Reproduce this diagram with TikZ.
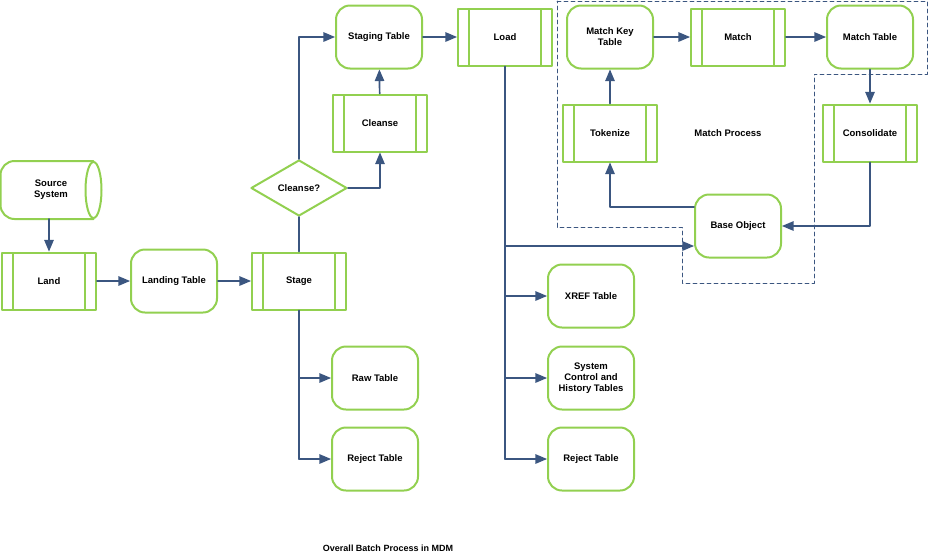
\documentclass[tikz,border=0pt]{standalone}
\usepackage{fontspec}
\setmainfont{Liberation Sans}
\usetikzlibrary{arrows,shapes.geometric}
\definecolor{boxgreen}{RGB}{146,208,80}
\definecolor{linkblue}{RGB}{59,86,128}
\tikzset{
  base/.style={draw=boxgreen,line width=2pt,fill=white,align=center,
    font=\fontsize{9.5}{11}\selectfont\bfseries,inner sep=1pt},
  table/.style={base,rounded corners=14pt,minimum width=86pt,minimum height=63pt},
  proc/.style={base,minimum width=94pt,minimum height=57pt,
    path picture={
      \draw[boxgreen,line width=2pt]
        ([xshift=11pt]path picture bounding box.north west) -- ([xshift=11pt]path picture bounding box.south west)
        ([xshift=-11pt]path picture bounding box.north east) -- ([xshift=-11pt]path picture bounding box.south east);}},
  link/.style={draw=linkblue,line width=1.7pt,->},
  region/.style={draw=linkblue,dash pattern=on 4pt off 3pt,line width=0.7pt}
}
\begin{document}
\begin{tikzpicture}[line cap=round,line join=round,>=triangle 45,x=1pt,y=-1pt]
\useasboundingbox (0,0) rectangle (928,555);
% match region
\draw[region] (557,1) -- (927,1) -- (927,74) -- (814,74) -- (814,283) -- (682,283) -- (682,227) -- (557,227) -- cycle;
% nodes
\node[base,draw=none,fill=none,minimum width=99pt,minimum height=56pt] (src) at (51,190) {Source\\System};
\draw[boxgreen,line width=2pt,rounded corners=14pt] ([xshift=-8pt]src.north east) -- (src.north west) -- (src.south west) -- ([xshift=-8pt]src.south east);
\draw[boxgreen,line width=2pt] ([xshift=-8pt]src.east) ellipse [x radius=8pt,y radius=28pt];
\node[proc] (land) at (49,281) {Land};
\node[table] (landing) at (174,281) {Landing Table};
\node[proc] (stage) at (299,281) {Stage};
\node[base,diamond,aspect=1.7,minimum width=96pt,minimum height=56pt,inner sep=0pt] (ask) at (299,188) {Cleanse?};
\node[proc] (cleanse) at (380,123) {Cleanse};
\node[table] (staging) at (379,37) {Staging Table};
\node[proc] (load) at (505,37) {Load};
\node[table] (mkey) at (610,37) {Match Key\\Table};
\node[proc] (match) at (738,37) {Match};
\node[table] (mtable) at (870,37) {Match Table};
\node[proc] (token) at (610,133) {Tokenize};
\node[proc] (consol) at (870,133) {Consolidate};
\node[table] (bobj) at (738,226) {Base Object};
\node[font=\fontsize{9.5}{11}\selectfont\bfseries] (mlabel) at (728,133) {Match Process};
\node[table] (xref) at (591,296) {XREF Table};
\node[table] (sysctl) at (591,378) {System\\Control and\\History Tables};
\node[table] (rejr) at (591,459) {Reject Table};
\node[table] (raw) at (375,378) {Raw Table};
\node[table] (rejl) at (375,459) {Reject Table};
\node[font=\fontsize{9}{10.5}\selectfont\bfseries] (caption) at (388,548) {Overall Batch Process in MDM};
% connectors
\draw[link] (src.south -| land.north) -- (land.north);
\draw[link] (land) -- (landing);
\draw[link] (landing) -- (stage);
\draw[link,-] (stage) -- (ask);
\draw[link] (ask.east) -| (cleanse.south);
\draw[link] (cleanse) -- (staging);
\draw[link] (ask.north) |- (staging.west);
\draw[link] (staging) -- (load);
\draw[link,-] (load.south) -- (505,459);
\draw[link] (505,246) -- (bobj.west |- 0,246);
\draw[link] (505,296) -- (xref.west);
\draw[link] (505,378) -- (sysctl.west);
\draw[link] (505,459) -- (rejr.west);
\draw[link,-] (stage.south) -- (299,459);
\draw[link] (299,378) -- (raw.west);
\draw[link] (299,459) -- (rejl.west);
\draw[link] (mkey) -- (match);
\draw[link] (match) -- (mtable);
\draw[link] (mtable) -- (consol);
\draw[link] (consol.south) |- (bobj.east);
\draw[link] (bobj.west |- 0,207) -| (token.south);
\draw[link] (token) -- (mkey);
\end{tikzpicture}
\end{document}
